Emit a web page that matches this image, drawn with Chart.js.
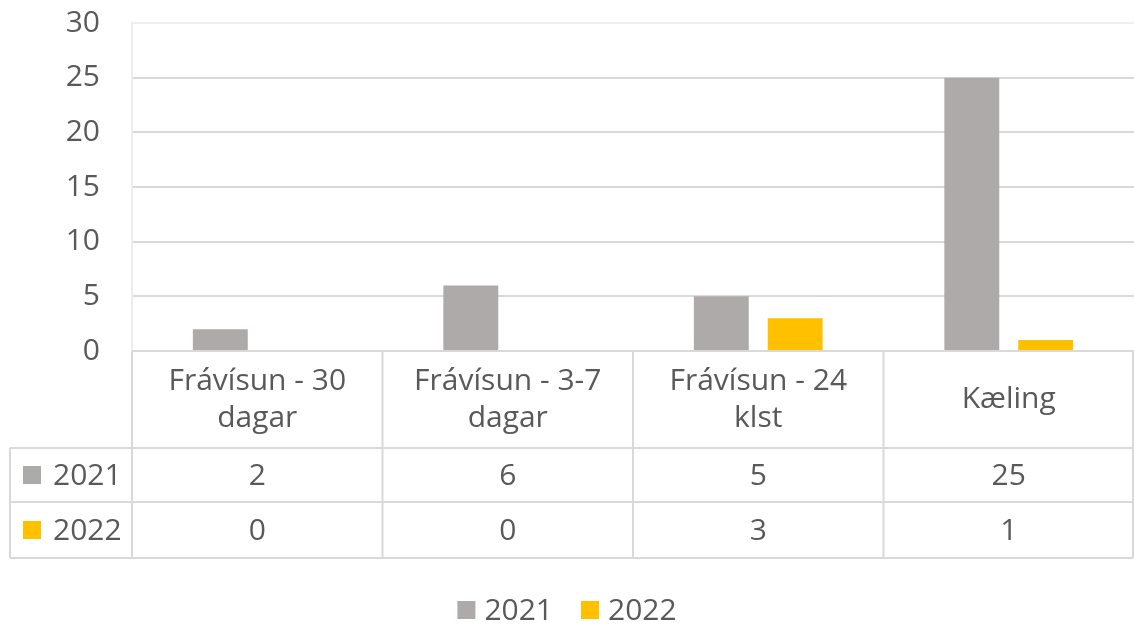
<!DOCTYPE html>
<html>
<head>
<meta charset="utf-8">
<script src="https://cdn.jsdelivr.net/npm/chart.js@4"></script>
<style>
  body { margin: 0; background: #fff; }
</style>
</head>
<body>
<canvas id="chart" width="1134" height="625"></canvas>
<script>
// Data
const categories = [['Frávísun - 30', 'dagar'], ['Frávísun - 3-7', 'dagar'], ['Frávísun - 24', 'klst'], ['Kæling']];
const seriesNames = ['2021', '2022'];
const values2021 = [2, 6, 5, 25];
const values2022 = [0, 0, 3, 1];
const yMax = 30;
const yStep = 5;

const textColor = '#595959';
const lineColor = '#D9D9D9';
const font = '30px "Open Sans"';

Chart.defaults.font.family = '"Open Sans"';
Chart.defaults.font.size = 30;
Chart.defaults.color = textColor;

// Draws the data table under the plot and the legend at the bottom
const tablePlugin = {
    id: 'dataTable',
    afterDraw(chart) {
        const ctx = chart.ctx;
        const area = chart.chartArea;
        const xScale = chart.scales.x;
        const n = chart.data.labels.length;
        const colW = (area.right - area.left) / n;

        const top = area.bottom;
        const headBottom = top + 97;
        const row1Bottom = headBottom + 54;
        const row2Bottom = row1Bottom + 56;
        const tableLeft = 10;
        const right = area.right - 1;

        ctx.save();
        ctx.strokeStyle = lineColor;
        ctx.lineWidth = 2;
        ctx.beginPath();
        // horizontal lines
        ctx.moveTo(area.left, top); ctx.lineTo(right, top);
        [headBottom, row1Bottom, row2Bottom].forEach(y => {
            ctx.moveTo(tableLeft, y); ctx.lineTo(right, y);
        });
        // left edge of series column
        ctx.moveTo(tableLeft, headBottom); ctx.lineTo(tableLeft, row2Bottom);
        // column lines
        for (let i = 0; i <= n; i++) {
            const x = i === n ? right : area.left + i * colW;
            ctx.moveTo(x, top); ctx.lineTo(x, row2Bottom);
        }
        ctx.stroke();

        ctx.font = font;
        ctx.fillStyle = textColor;
        ctx.textAlign = 'center';
        ctx.textBaseline = 'middle';

        // header labels
        const headMid = (top + headBottom) / 2;
        chart.data.labels.forEach((label, i) => {
            const lines = Array.isArray(label) ? label : [label];
            const cx = xScale.getPixelForValue(i);
            const lh = 37;
            lines.forEach((line, j) => {
                const y = headMid + (j - (lines.length - 1) / 2) * lh;
                ctx.fillText(line, cx, y);
            });
        });

        // value rows
        const rowMids = [(headBottom + row1Bottom) / 2, (row1Bottom + row2Bottom) / 2];
        chart.data.datasets.forEach((ds, r) => {
            const y = rowMids[r];
            ds.data.forEach((v, i) => {
                ctx.fillText(String(v), xScale.getPixelForValue(i), y + 1);
            });
            // series key
            ctx.fillStyle = ds.backgroundColor;
            ctx.fillRect(23, y - 9, 18, 18);
            ctx.fillStyle = textColor;
            ctx.textAlign = 'left';
            ctx.fillText(ds.label, 53, y + 1);
            ctx.textAlign = 'center';
        });

        // legend
        const legendY = 610;
        const gap = 28;
        const widths = chart.data.datasets.map(ds => 18 + 9 + ctx.measureText(ds.label).width);
        const total = widths.reduce((a, b) => a + b, 0) + gap * (widths.length - 1);
        let lx = (chart.width - total) / 2;
        ctx.textAlign = 'left';
        chart.data.datasets.forEach((ds, i) => {
            ctx.fillStyle = ds.backgroundColor;
            ctx.fillRect(lx, legendY - 9, 18, 18);
            ctx.fillStyle = textColor;
            ctx.fillText(ds.label, lx + 27, legendY + 1);
            lx += widths[i] + gap;
        });
        ctx.restore();
    }
};

new Chart(document.getElementById('chart'), {
    type: 'bar',
    data: {
        labels: categories,
        datasets: [
            { label: seriesNames[0], data: values2021, backgroundColor: '#AEAAAA' },
            { label: seriesNames[1], data: values2022, backgroundColor: '#FFC000' }
        ]
    },
    options: {
        responsive: false,
        animation: false,
        devicePixelRatio: 1,
        layout: { padding: { top: 23, bottom: 274, left: 0, right: 0 } },
        datasets: {
            bar: { categoryPercentage: 0.59, barPercentage: 0.743 }
        },
        plugins: {
            legend: { display: false },
            tooltip: { enabled: false }
        },
        scales: {
            x: { display: false },
            y: {
                min: 0,
                max: yMax,
                ticks: { stepSize: yStep, padding: 32, color: textColor, font: { size: 30 } },
                grid: {
                    drawTicks: false,
                    lineWidth: 2,
                    color: c => c.tick && c.tick.value === yMax ? '#F0F0F0' : lineColor
                },
                border: { display: true, color: '#EDEDED', width: 2 },
                afterFit: scale => {
                    scale.width = 132;
                    scale.paddingTop = 0;
                    scale.paddingBottom = 0;
                }
            }
        }
    },
    plugins: [tablePlugin]
});
</script>
</body>
</html>
